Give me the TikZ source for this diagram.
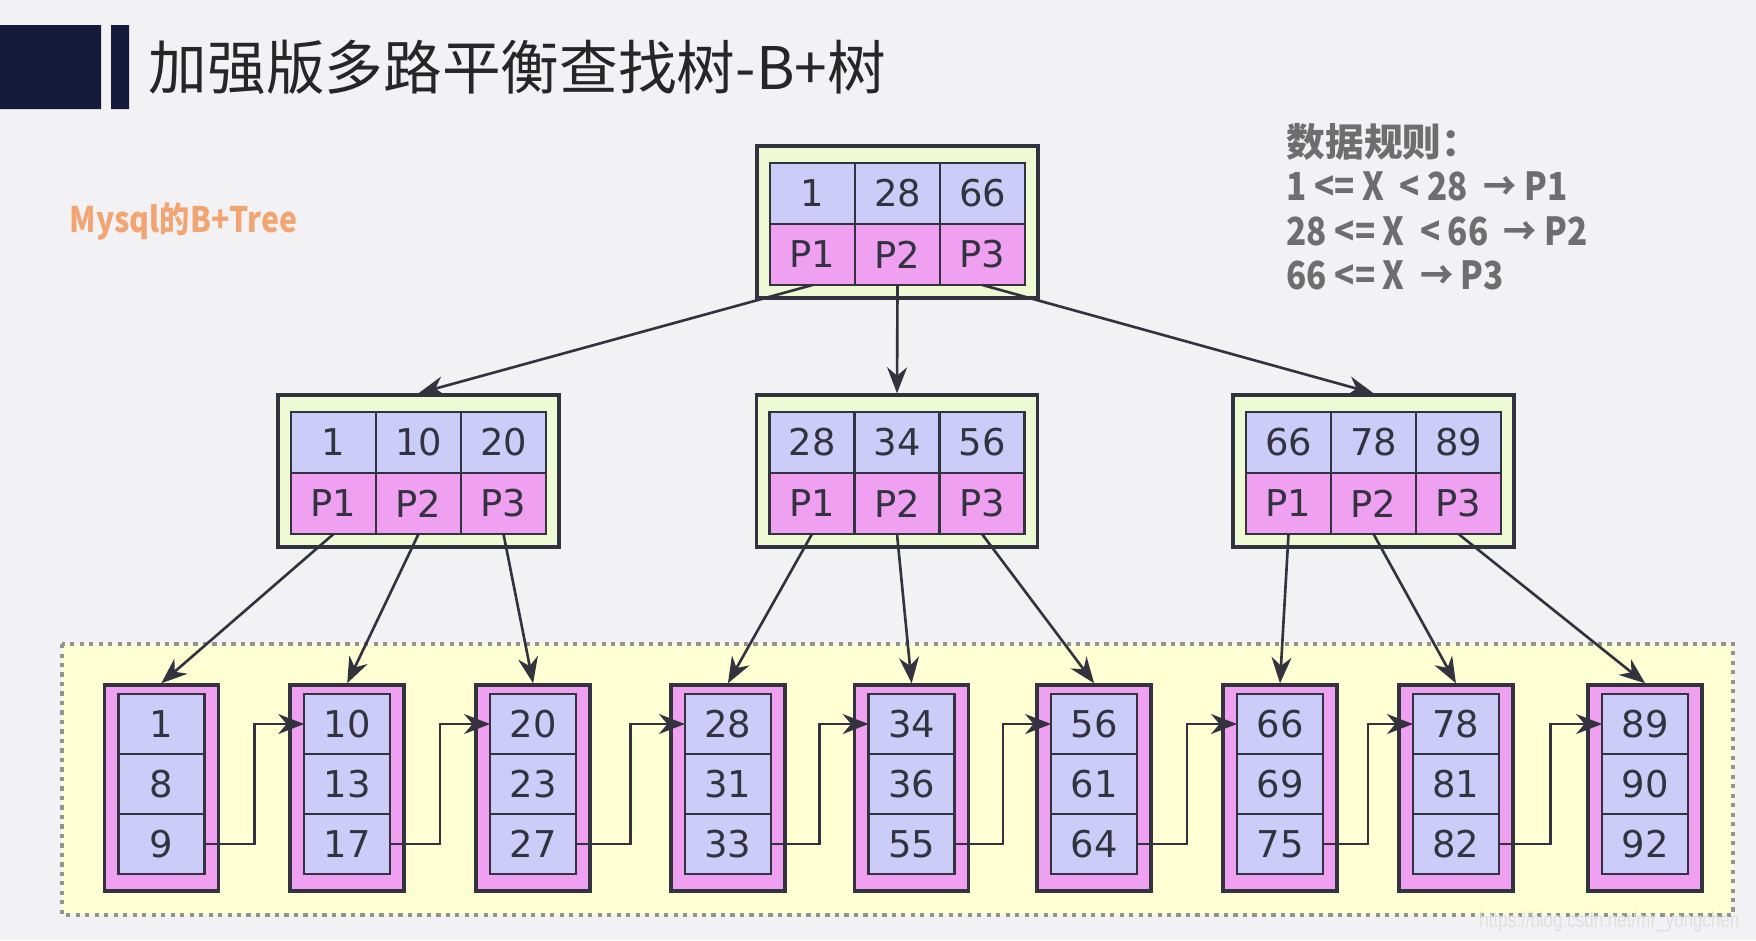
\documentclass[tikz,border=0pt]{standalone}
\usepackage{fontspec}
\setmainfont{DejaVu Sans}
\newfontfamily\cjk{Noto Sans CJK SC}
\newfontfamily\cjknarrow{Noto Sans CJK SC}[FakeStretch=0.86]
\newfontfamily\marknarrow{Liberation Sans}[FakeStretch=0.78]
\usetikzlibrary{arrows.meta,positioning,fit,calc,backgrounds}
\definecolor{keyblue}{RGB}{204,204,248}
\definecolor{ptrpink}{RGB}{240,160,240}
\definecolor{boxgreen}{RGB}{238,250,212}
\definecolor{zoneyellow}{RGB}{255,255,212}
\definecolor{inkgray}{RGB}{51,51,64}
\definecolor{titlenavy}{RGB}{22,26,58}
\definecolor{slidegray}{RGB}{242,242,244}
\definecolor{rulegray}{RGB}{110,110,110}
\definecolor{mysqlorange}{RGB}{242,165,115}
\tikzstyle{cell}=[draw=inkgray,line width=0.7pt,inner sep=0pt,outer sep=0pt,
  text=inkgray,font=\fontsize{10.5}{12}\selectfont]
\tikzstyle{keycell}=[cell,fill=keyblue,minimum width=0.85cm,minimum height=0.61cm]
\tikzstyle{ptrcell}=[cell,fill=ptrpink,minimum width=0.85cm,minimum height=0.61cm]
\tikzstyle{leafcell}=[cell,fill=keyblue,minimum width=0.86cm,minimum height=0.60cm]
\tikzstyle{ibox}=[draw=inkgray,line width=1pt,fill=boxgreen,inner sep=0pt]
\tikzstyle{leafbox}=[draw=inkgray,line width=1pt,fill=ptrpink,inner sep=0pt]
\tikzstyle{treearrow}=[draw=inkgray,line width=0.75pt,-{Stealth[length=2.6mm,width=2mm]}]
\tikzstyle{rule}=[anchor=west,inner sep=0pt,text=rulegray,font=\cjknarrow\bfseries\fontsize{11}{13}\selectfont]

\begin{document}
\begin{tikzpicture}[node distance=0.61cm and 0.85cm, on grid]
  \useasboundingbox (0,0) rectangle (17.56,-9.40);
  \begin{scope}[on background layer]
    \fill[slidegray] (0,0) rectangle (17.56,-9.40);
    \fill[titlenavy] (0,-0.25) rectangle (1.01,-1.09) (1.11,-0.25) rectangle (1.29,-1.09);
    \draw[gray!85,fill=zoneyellow,line width=1.2pt,dash pattern=on 1.2pt off 1.5pt]
      (0.62,-6.44) rectangle (17.33,-9.15);
  \end{scope}

  \node[anchor=west,inner sep=0pt,text=black!85,font=\cjk\fontsize{16.7}{20}\selectfont]
    (title) at (1.48,-0.67) {加强版多路平衡查找树-B+树};
  \node[anchor=west,inner sep=0pt,text=mysqlorange,font=\cjknarrow\bfseries\fontsize{10}{12}\selectfont]
    (mysql) at (0.69,-2.21) {Mysql的B+Tree};

  \node[rule,font=\cjk\bfseries\fontsize{11}{13}\selectfont] (rule0) at (12.86,-1.42) {数据规则：};
  \node[rule] (rule1) at (12.86,-1.86) {1 <= X~ < 28~ → P1};
  \node[rule] (rule2) at (12.86,-2.31) {28 <= X~ < 66~ → P2};
  \node[rule] (rule3) at (12.86,-2.75) {66 <= X~ → P3};

  % index nodes
  \foreach \n/\x/\y/\a/\b/\c in {r/8.975/-1.935/1/28/66, m1/4.185/-4.425/1/10/20,
      m2/8.97/-4.425/28/34/56, m3/13.735/-4.425/66/78/89} {
    \node[keycell] (\n-k2) at (\x,\y) {\b};
    \node[keycell, left=of \n-k2] (\n-k1) {\a};
    \node[keycell, right=of \n-k2] (\n-k3) {\c};
    \node[ptrcell, below=of \n-k1] (\n-p1) {P1};
    \node[ptrcell, below=of \n-k2] (\n-p2) {P2};
    \node[ptrcell, below=of \n-k3] (\n-p3) {P3};
    \begin{scope}[on background layer]
      \node[ibox, fit={($(\n-k1.north west)+(-0.13,0.17)$) ($(\n-p3.south east)+(0.13,-0.13)$)}]
        (\n-box) {};
    \end{scope}
  }

  % leaf nodes
  \foreach \i/\x/\a/\b/\c in {1/1.613/1/8/9, 2/3.472/10/13/17, 3/5.331/20/23/27,
      4/7.279/28/31/33, 5/9.116/34/36/55, 6/10.941/56/61/64, 7/12.800/66/69/75,
      8/14.559/78/81/82, 9/16.451/89/90/92} {
    \node[leafcell] (l\i-1) at (\x,-7.24) {\a};
    \node[leafcell, below=0.60cm of l\i-1] (l\i-2) {\b};
    \node[leafcell, below=0.60cm of l\i-2] (l\i-3) {\c};
    \begin{scope}[on background layer]
      \node[leafbox, fit={($(l\i-1.north west)+(-0.14,0.09)$) ($(l\i-3.south east)+(0.14,-0.17)$)}]
        (leaf\i) {};
    \end{scope}
  }

  \draw[treearrow] (r-p1.south) -- (m1-box.north);
  \draw[treearrow] (r-p2.south) -- (m2-box.north);
  \draw[treearrow] (r-p3.south) -- (m3-box.north);
  \foreach \m in {1,2,3}
    \foreach \p in {1,2,3} {
      \pgfmathtruncatemacro\l{3*(\m-1)+\p}
      \draw[treearrow] (m\m-p\p.south) -- (leaf\l.north);
    }
  \foreach \i [evaluate=\i as \j using int(\i+1)] in {1,...,8}
    \draw[treearrow] (l\i-3.east) -| ($(leaf\i.east)!.5!(leaf\j.west)$) |- (l\j-1.west);

  \node[anchor=east,inner sep=0pt,text=white!75!gray,font=\marknarrow\fontsize{6.2}{8}\selectfont]
    (mark) at (17.40,-9.22) {https://blog.csdn.net/mr\_yongchen};
\end{tikzpicture}
\end{document}
